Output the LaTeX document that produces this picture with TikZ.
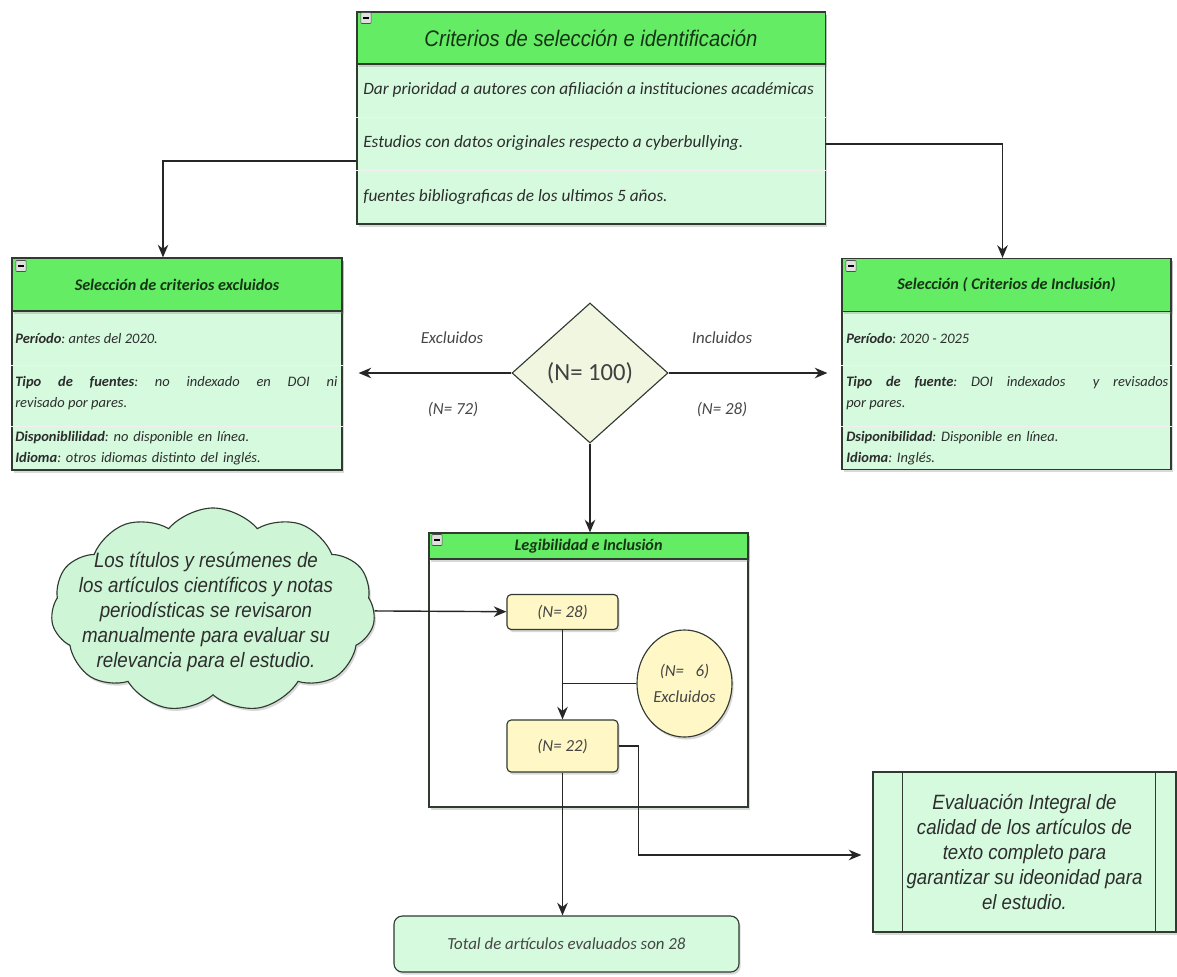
\documentclass[tikz,border=0pt]{standalone}
\usepackage{fontspec}
\setmainfont{Carlito}
\newfontfamily\arialfont[FakeStretch=0.9]{Liberation Sans}
\usepackage{tikz}
\usetikzlibrary{arrows.meta,shapes.geometric,shapes.symbols,shadows,calc}
\definecolor{headgreen}{RGB}{100,236,100}
\definecolor{bodygreen}{RGB}{213,250,222}
\definecolor{notegreen}{RGB}{206,246,214}
\definecolor{nyellow}{RGB}{255,248,198}
\definecolor{decfill}{RGB}{240,246,224}
\definecolor{boxline}{RGB}{48,58,48}
\definecolor{headtext}{RGB}{22,52,22}
\definecolor{textgray}{RGB}{45,45,45}
\definecolor{labelgray}{RGB}{70,70,70}
\tikzset{
  shade/.style={drop shadow={shadow xshift=1.2pt,shadow yshift=-1.8pt,opacity=0.3}},
  box/.style={draw=boxline,line width=0.8pt,fill=bodygreen,shade},
  headbox/.style={draw=boxline,line width=0.8pt,fill=headgreen,shade,text=headtext,inner sep=0pt},
  minusicon/.style={draw=gray!60!black,fill=gray!25,rounded corners=0.6pt,minimum width=7.2pt,minimum height=7.8pt,inner sep=0pt},
  sepline/.style={draw=white!88!gray,line width=0.6pt},
  rowtext/.style={anchor=west,inner sep=0pt,text=textgray,font=\itshape\fontsize{12.3}{14}\selectfont},
  sidetext/.style={anchor=west,inner sep=0pt,text=textgray,font=\itshape\fontsize{10.3}{14.5}\selectfont},
  sidehead/.style={font=\bfseries\itshape\fontsize{11.5}{13}\selectfont},
  flow/.style={draw=black!85,line width=1pt,-{Stealth[length=9pt,width=7.5pt]}},
  plainline/.style={draw=black!85,line width=1pt},
  flowlabel/.style={text=labelgray,font=\itshape\fontsize{12}{14}\selectfont},
  countbox/.style={draw=boxline,line width=0.8pt,fill=nyellow,rounded corners=3pt,shade,text=labelgray,font=\itshape\fontsize{12}{14}\selectfont},
}
\frenchspacing
\begin{document}
\begin{tikzpicture}[x=0.025cm,y=-0.025cm]
\useasboundingbox (0,0) rectangle (1177,976);

\node[box,minimum width=11.7cm,minimum height=5.3cm] (crit) at (591,118) {};
\node[headbox,minimum width=11.7cm,minimum height=1.3cm,font=\arialfont\itshape\fontsize{16}{18}\selectfont] (critHead) at (591,38) {Criterios de selección e identificación};
\node[minusicon] (critIcon) at (366,18) {\rule{4pt}{1pt}};
\draw[sepline] (crit.west |- 0,117) -- (crit.east |- 0,117);
\draw[sepline] (crit.west |- 0,170) -- (crit.east |- 0,170);
\node[rowtext] (critA) at (363,90) {Dar prioridad a autores con afiliación a instituciones académicas};
\node[rowtext] (critB) at (363,143) {Estudios con datos originales respecto a cyberbullying.};
\node[rowtext] (critC) at (363,197) {fuentes bibliograficas de los ultimos 5 años.};

\node[box,minimum width=8.25cm,minimum height=5.3cm] (excl) at (177,364) {};
\node[headbox,sidehead,minimum width=8.25cm,minimum height=1.325cm] (exclHead) at (177,284.5) {Selección de criterios excluidos};
\node[minusicon] (exclIcon) at (21,266) {\rule{4pt}{1pt}};
\draw[sepline] (excl.west |- 0,365) -- (excl.east |- 0,365);
\draw[sepline] (excl.west |- 0,426) -- (excl.east |- 0,426);
\node[sidetext] (exclA) at (15,338) {\textbf{Período}: antes del 2020.};
\node[sidetext,text width=8.05cm,align=justify] (exclB) at (15,393) {\textbf{Tipo de fuentes}: no indexado en DOI ni\linebreak revisado por pares.};
\node[sidetext,text width=8.05cm,align=left] (exclC) at (15,448) {\textbf{Disponiblilidad}: no disponible en línea.\\ \textbf{Idioma}: otros idiomas distinto del inglés.};

\node[box,minimum width=8.225cm,minimum height=5.275cm] (incl) at (1006.5,364) {};
\node[headbox,sidehead,minimum width=8.225cm,minimum height=1.325cm] (inclHead) at (1006.5,285) {Selección ( Criterios de Inclusión)};
\node[minusicon] (inclIcon) at (851,266) {\rule{4pt}{1pt}};
\draw[sepline] (incl.west |- 0,365) -- (incl.east |- 0,365);
\draw[sepline] (incl.west |- 0,426) -- (incl.east |- 0,426);
\node[sidetext] (inclA) at (846,338) {\textbf{Período}: 2020 - 2025};
\node[sidetext,text width=8.05cm,align=justify] (inclB) at (846,393) {\textbf{Tipo de fuente}: DOI indexados \ y revisados\linebreak por pares.};
\node[sidetext,text width=8.05cm,align=left] (inclC) at (846,448) {\textbf{Dsiponibilidad}: Disponible en línea.\\ \textbf{Idioma}: Inglés.};

\node[diamond,draw=boxline,line width=0.8pt,fill=decfill,inner sep=0pt,minimum width=3.9cm,minimum height=3.5cm,text=black!75,font=\fontsize{17.5}{20}\selectfont] (total) at (590,373) {(N= 100)};

\draw[flow] ($(crit.west)+(0,43)$) -| ($(excl.north)+(-14,0)$);
\draw[flow] ($(crit.east)+(0,26)$) -| ($(incl.north)+(-4,0)$);
\draw[flow] (total.west) -- ($(excl.east |- total.west)+(16,0)$);
\draw[flow] (total.east) -- ($(incl.west |- total.east)+(-14,0)$);
\node[flowlabel] (exclLabel) at (452,338) {Excluidos};
\node[flowlabel] (exclCount) at (453,409) {(N= 72)};
\node[flowlabel] (inclLabel) at (722,338) {Incluidos};
\node[flowlabel] (inclCount) at (722,409) {(N= 28)};

\node[draw=boxline,line width=0.8pt,fill=white,shade,minimum width=7.975cm,minimum height=6.85cm] (legib) at (588.5,670) {};
\node[headbox,sidehead,minimum width=7.975cm,minimum height=0.65cm] (legibHead) at (588.5,546) {Legibilidad e Inclusión};
\node[minusicon] (legibIcon) at (437,540) {\rule{4pt}{1pt}};
\draw[flow] (total.south) -- (total.south |- legib.north);

\node[countbox,minimum width=2.775cm,minimum height=0.875cm] (n28) at (562.5,612) {(N= 28)};
\node[countbox,minimum width=2.775cm,minimum height=1.3cm] (n22) at (562.5,746) {(N= 22)};
\node[ellipse,draw=boxline,line width=0.8pt,fill=nyellow,shade,inner sep=0pt,minimum width=2.375cm,minimum height=2.675cm,align=center,text=labelgray,font=\itshape\fontsize{12}{18}\selectfont] (excl6) at (684.5,683.5) {(N=~~~6)\\Excluidos};
\draw[flow] (n28) -- (n22);
\draw[plainline] (excl6.west) -- (excl6.west -| n28.south);

\node[cloud,cloud puffs=11,cloud puff arc=100,aspect=1.6,draw=boxline,line width=0.8pt,fill=notegreen,shade,inner sep=0pt,minimum width=8.1cm,minimum height=5.1cm] (cloudNote) at (213,610) {};
\node[align=center,text=textgray,font=\arialfont\itshape\fontsize{14.8}{17.8}\selectfont] (cloudText) at (206,612) {Los títulos y resúmenes de\\los artículos científicos y notas\\periodísticas se revisaron\\manualmente para evaluar su\\relevancia para el estudio.};
\draw[flow] (cloudNote) -- (n28);

\node[draw=boxline,line width=0.8pt,fill=bodygreen,shade,minimum width=7.575cm,minimum height=4cm,align=center,text=textgray,font=\arialfont\itshape\fontsize{14.7}{17.8}\selectfont] (evalBox) at (1024.5,852) {Evaluación Integral de\\calidad de los artículos de\\texto completo para\\garantizar su ideonidad para\\el estudio.};
\draw[boxline,line width=0.8pt] ($(evalBox.north west)+(30,0)$) -- ($(evalBox.south west)+(30,0)$);
\draw[boxline,line width=0.8pt] ($(evalBox.north east)+(-21,0)$) -- ($(evalBox.south east)+(-21,0)$);
\draw[flow] (n22.east) -- ++(20,0) |- ($(evalBox.west)+(-11,3)$);

\node[countbox,rounded corners=6pt,fill=bodygreen,minimum width=8.625cm,minimum height=1.4cm] (sumBox) at (566.5,944) {Total de artículos evaluados son 28};
\draw[flow] (n22.south) -- (n22.south |- sumBox.north);
\end{tikzpicture}
\end{document}
